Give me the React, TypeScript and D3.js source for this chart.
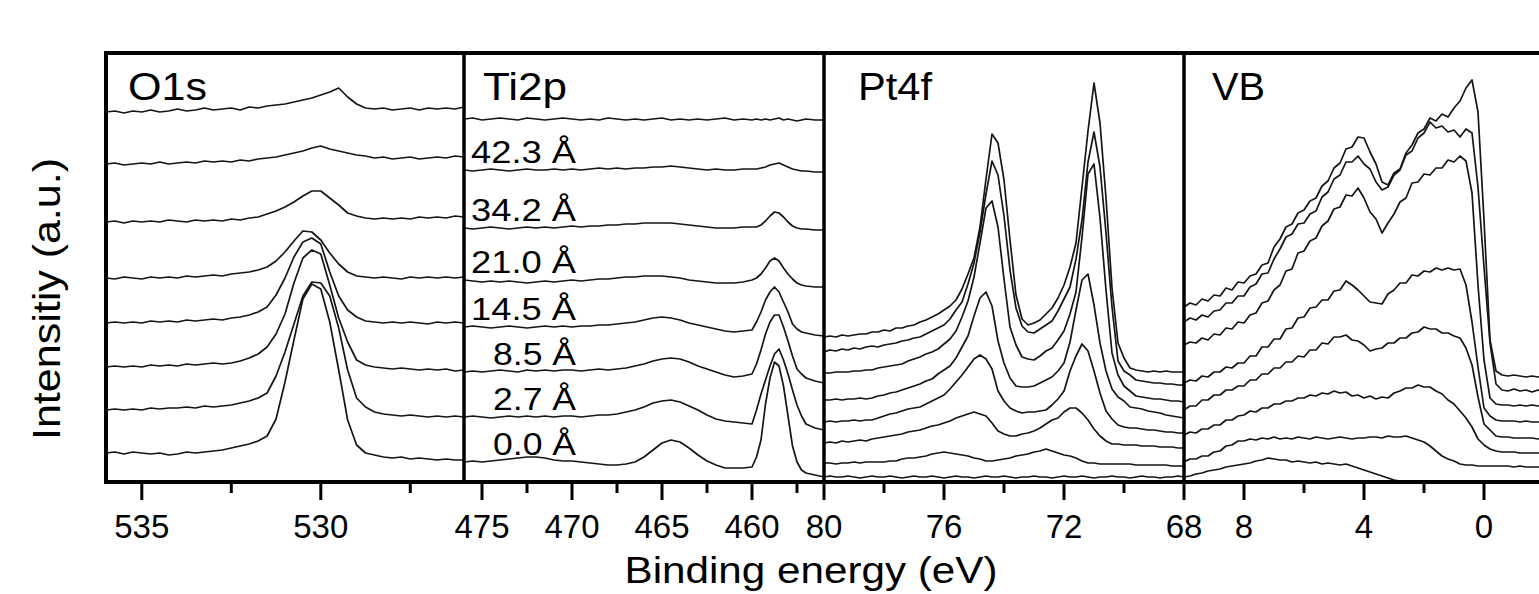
import React from "react";
import * as d3 from "d3";

// ---------- DATA ----------
const panelTitles = ["O1s", "Ti2p", "Pt4f", "VB"];
const thicknessLabels = ["42.3 Å", "34.2 Å", "21.0 Å", "14.5 Å", "8.5 Å", "2.7 Å", "0.0 Å"];

const o1sDomain = [536, 526];
const o1sMajor = [535, 530];
const o1sMinor = [532.5, 527.5];
const o1sEnergy = [536, 535.75, 535.5, 535.25, 535, 534.75, 534.5, 534.25, 534, 533.75, 533.5, 533.25, 533, 532.75, 532.5, 532.25, 532, 531.75, 531.5, 531.25, 531, 530.75, 530.5, 530.25, 530, 529.75, 529.5, 529.25, 529, 528.75, 528.5, 528.25, 528, 527.75, 527.5, 527.25, 527, 526.75, 526.5, 526.25, 526];
const o1sSpectra = [
  [370, 371, 369, 371, 370, 372, 370, 371, 373, 371, 372, 374, 372, 373, 374, 372, 375, 374, 376, 377, 378, 380, 382, 384, 387, 390, 394, 385, 378, 374, 373, 374, 372, 373, 374, 372, 374, 373, 374, 373, 375],
  [318, 319, 317, 318, 319, 318, 320, 318, 319, 320, 319, 321, 320, 321, 320, 322, 321, 323, 324, 325, 327, 329, 331, 334, 336, 333, 331, 329, 327, 326, 324, 325, 323, 324, 325, 323, 324, 325, 324, 326, 325],
  [260, 261, 259, 261, 260, 261, 260, 262, 261, 260, 262, 261, 262, 261, 263, 262, 264, 265, 268, 271, 275, 280, 286, 291, 291, 284, 277, 269, 266, 264, 263, 264, 263, 264, 263, 265, 264, 265, 264, 266, 265],
  [204, 203, 205, 204, 203, 205, 204, 205, 204, 206, 205, 206, 207, 206, 208, 209, 210, 212, 215, 221, 230, 241, 251, 250, 242, 229, 218, 210, 206, 205, 204, 205, 204, 203, 205, 204, 205, 204, 205, 204, 205],
  [159, 160, 159, 160, 159, 161, 160, 161, 160, 162, 161, 162, 163, 162, 164, 165, 167, 170, 175, 187, 204, 225, 240, 244, 238, 210, 186, 172, 165, 161, 160, 159, 160, 159, 160, 159, 158, 160, 159, 160, 159],
  [115, 116, 115, 116, 115, 117, 116, 117, 116, 118, 117, 118, 119, 118, 119, 121, 124, 128, 135, 148, 168, 199, 224, 232, 228, 197, 164, 140, 122, 117, 115, 114, 113, 114, 113, 112, 113, 112, 113, 111, 112],
  [72, 73, 72, 73, 72, 74, 73, 74, 74, 75, 74, 76, 75, 76, 77, 79, 81, 84, 89, 106, 130, 158, 186, 200, 199, 186, 154, 112, 84, 75, 70, 68, 67, 66, 67, 66, 65, 66, 65, 66, 65],
  [29, 30, 28, 30, 29, 28, 29, 27, 28, 30, 29, 30, 31, 32, 34, 36, 38, 41, 46, 63, 100, 142, 183, 198, 193, 160, 112, 62, 37, 29, 27, 25, 24, 25, 23, 24, 23, 22, 23, 22, 22],
];

const ti2pDomain = [476, 456];
const ti2pMajor = [475, 470, 465, 460];
const ti2pMinor = [472.5, 467.5, 462.5, 457.5];
const ti2pEnergy = [476, 475.5, 475, 474.5, 474, 473.5, 473, 472.5, 472, 471.5, 471, 470.5, 470, 469.5, 469, 468.5, 468, 467.5, 467, 466.5, 466, 465.5, 465, 464.5, 464, 463.5, 463, 462.5, 462, 461.5, 461, 460.5, 460, 459.75, 459.5, 459.25, 459, 458.75, 458.5, 458.25, 458, 457.75, 457.5, 457.25, 457, 456.5, 456];
const ti2pSpectra = [
  [363, 364, 362, 363, 364, 363, 362, 364, 363, 362, 363, 364, 363, 362, 363, 362, 364, 363, 362, 363, 362, 363, 364, 362, 363, 362, 363, 362, 363, 364, 362, 363, 362, 363, 362, 363, 362, 363, 364, 362, 363, 362, 361, 362, 363, 362, 362],
  [312, 311, 312, 313, 312, 311, 312, 313, 312, 312, 313, 312, 313, 312, 313, 314, 313, 314, 313, 314, 314, 315, 315, 316, 315, 314, 313, 312, 313, 312, 312, 313, 313, 313, 314, 315, 317, 318, 319, 317, 315, 313, 312, 311, 311, 310, 310],
  [254, 253, 254, 255, 254, 253, 254, 255, 254, 255, 254, 255, 256, 255, 256, 256, 257, 257, 258, 258, 259, 259, 259, 259, 258, 257, 256, 255, 254, 254, 254, 255, 255, 255, 257, 261, 266, 270, 269, 265, 260, 256, 254, 253, 253, 252, 252],
  [202, 201, 200, 201, 200, 201, 200, 199, 200, 201, 200, 201, 202, 201, 202, 203, 203, 204, 205, 205, 206, 206, 206, 205, 204, 202, 201, 200, 199, 199, 199, 200, 202, 204, 208, 214, 221, 224, 221, 214, 208, 203, 199, 197, 196, 195, 195],
  [155, 156, 155, 154, 155, 156, 155, 154, 155, 156, 155, 156, 155, 156, 156, 157, 157, 158, 159, 160, 162, 164, 165, 164, 162, 159, 157, 155, 153, 151, 150, 151, 152, 160, 170, 182, 190, 195, 190, 180, 170, 158, 153, 150, 149, 147, 146],
  [110, 111, 110, 111, 112, 111, 110, 112, 111, 112, 111, 112, 112, 111, 112, 113, 112, 113, 114, 116, 118, 121, 123, 124, 123, 120, 116, 113, 110, 107, 105, 106, 108, 118, 132, 148, 160, 167, 167, 155, 141, 126, 113, 108, 104, 101, 99],
  [65, 66, 65, 64, 65, 66, 65, 66, 65, 66, 65, 66, 66, 65, 66, 67, 67, 68, 70, 72, 75, 79, 81, 82, 80, 76, 72, 67, 63, 61, 60, 59, 58, 72, 88, 102, 116, 128, 133, 122, 108, 92, 77, 66, 58, 54, 52],
  [20, 21, 20, 21, 22, 23, 24, 25, 25, 24, 22, 21, 21, 20, 19, 18, 17, 17, 18, 20, 25, 32, 39, 42, 40, 34, 27, 21, 17, 14, 14, 14, 15, 25, 42, 78, 104, 120, 116, 96, 66, 36, 20, 12, 9, 7, 5],
];

const pt4fDomain = [80, 68];
const pt4fMajor = [80, 76, 72, 68];
const pt4fMinor = [78, 74, 70];
const pt4fEnergy = [80, 79.8, 79.6, 79.4, 79.2, 79, 78.8, 78.6, 78.4, 78.2, 78, 77.8, 77.6, 77.4, 77.2, 77, 76.8, 76.6, 76.4, 76.2, 76, 75.8, 75.6, 75.4, 75.2, 75, 74.8, 74.6, 74.4, 74.2, 74, 73.8, 73.6, 73.4, 73.2, 73, 72.8, 72.6, 72.4, 72.2, 72, 71.8, 71.6, 71.4, 71.2, 71, 70.8, 70.6, 70.4, 70.2, 70, 69.8, 69.6, 69.4, 69.2, 69, 68.8, 68.6, 68.4, 68.2, 68];
const pt4fSpectra = [
  [145, 146, 145, 147, 146, 147, 148, 148, 150, 150, 152, 151, 154, 154, 156, 157, 160, 162, 165, 168, 172, 176, 182, 193, 208, 224, 255, 303, 348, 339, 302, 242, 187, 163, 157, 159, 162, 168, 174, 184, 197, 215, 239, 295, 351, 399, 359, 284, 194, 139, 124, 114, 112, 111, 110, 111, 110, 111, 110, 110, 110],
  [130, 132, 131, 133, 132, 134, 133, 135, 136, 135, 137, 138, 139, 141, 142, 144, 145, 148, 151, 154, 157, 163, 172, 180, 198, 219, 250, 288, 321, 307, 266, 212, 174, 156, 150, 149, 153, 157, 161, 171, 183, 195, 223, 262, 320, 350, 315, 249, 175, 121, 111, 107, 102, 101, 100, 99, 99, 98, 98, 97, 97],
  [109, 109, 110, 110, 110, 111, 111, 112, 112, 114, 115, 116, 117, 118, 121, 123, 125, 128, 130, 133, 138, 143, 151, 165, 181, 205, 239, 274, 281, 255, 203, 155, 137, 125, 123, 122, 126, 131, 134, 142, 151, 168, 190, 245, 308, 318, 264, 192, 129, 107, 96, 91, 86, 85, 84, 83, 83, 82, 81, 81, 80],
  [82, 82, 83, 82, 83, 83, 84, 83, 84, 86, 87, 89, 90, 92, 94, 96, 98, 101, 103, 108, 112, 116, 124, 135, 146, 166, 184, 190, 176, 141, 119, 104, 96, 95, 95, 96, 99, 102, 105, 111, 119, 140, 172, 202, 208, 177, 139, 111, 93, 85, 81, 75, 74, 73, 71, 70, 69, 67, 66, 65, 64],
  [60, 61, 60, 61, 61, 62, 61, 62, 62, 64, 66, 68, 69, 71, 73, 74, 75, 78, 81, 84, 87, 93, 100, 107, 115, 123, 127, 123, 113, 91, 81, 74, 71, 69, 70, 70, 71, 72, 77, 83, 91, 111, 126, 138, 131, 111, 89, 71, 63, 57, 55, 54, 54, 53, 52, 52, 51, 50, 50, 49, 49],
  [39, 40, 39, 41, 40, 41, 42, 41, 43, 44, 45, 46, 47, 48, 50, 51, 52, 54, 56, 57, 59, 61, 64, 66, 68, 70, 68, 66, 59, 51, 48, 46, 46, 48, 49, 51, 54, 58, 62, 64, 70, 74, 74, 69, 62, 53, 46, 41, 38, 38, 37, 37, 37, 36, 36, 36, 35, 35, 35, 34, 34],
  [19, 19, 18, 19, 19, 20, 19, 20, 20, 20, 20, 21, 21, 23, 24, 24, 25, 26, 28, 29, 30, 29, 28, 27, 26, 24, 23, 21, 21, 22, 23, 24, 26, 27, 28, 30, 31, 33, 31, 29, 27, 26, 24, 21, 19, 19, 18, 18, 18, 18, 18, 18, 17, 17, 17, 17, 17, 17, 16, 16, 16],
  [5, 6, 5, 5, 6, 5, 4, 5, 6, 5, 5, 6, 5, 4, 5, 6, 5, 5, 6, 5, 4, 5, 6, 5, 5, 4, 5, 6, 5, 5, 6, 5, 4, 5, 5, 6, 5, 5, 4, 5, 6, 5, 5, 6, 5, 4, 5, 5, 6, 5, 5, 4, 5, 6, 5, 5, 4, 5, 5, 6, 5],
];

const vbDomain = [10, -2];
const vbMajor = [8, 4, 0];
const vbMinor = [6, 2];
const vbEnergy = [10, 9.8, 9.6, 9.4, 9.2, 9, 8.8, 8.6, 8.4, 8.2, 8, 7.8, 7.6, 7.4, 7.2, 7, 6.8, 6.6, 6.4, 6.2, 6, 5.8, 5.6, 5.4, 5.2, 5, 4.8, 4.6, 4.4, 4.2, 4, 3.8, 3.6, 3.4, 3.2, 3, 2.8, 2.6, 2.4, 2.2, 2, 1.8, 1.6, 1.4, 1.2, 1, 0.8, 0.6, 0.4, 0.2, 0, -0.2, -0.4, -0.6, -0.8, -1, -1.2, -1.4, -1.6, -1.8, -2];
const vbSpectra = [
  [175, 179, 177, 183, 181, 187, 186, 194, 192, 200, 199, 206, 208, 217, 219, 235, 243, 255, 258, 269, 272, 281, 284, 296, 301, 314, 319, 333, 335, 345, 344, 330, 318, 300, 297, 309, 313, 329, 337, 349, 353, 364, 361, 368, 365, 374, 381, 394, 402, 370, 262, 142, 111, 107, 106, 107, 106, 105, 106, 105, 106],
  [160, 164, 162, 167, 165, 171, 172, 179, 179, 186, 186, 195, 198, 208, 209, 223, 233, 245, 248, 258, 259, 268, 271, 285, 290, 303, 307, 320, 320, 326, 318, 313, 300, 292, 295, 307, 312, 327, 331, 344, 349, 360, 354, 356, 350, 352, 345, 353, 349, 295, 215, 139, 98, 92, 91, 93, 91, 92, 90, 92, 91],
  [137, 140, 139, 144, 142, 148, 147, 154, 153, 160, 159, 167, 169, 179, 181, 192, 197, 211, 213, 229, 231, 241, 244, 256, 261, 273, 275, 287, 286, 294, 284, 270, 263, 249, 259, 268, 280, 284, 299, 300, 308, 307, 314, 314, 322, 320, 326, 321, 289, 197, 122, 84, 78, 77, 77, 76, 77, 76, 77, 76, 76],
  [99, 102, 101, 106, 105, 110, 110, 115, 114, 119, 119, 126, 126, 135, 135, 143, 143, 153, 154, 164, 165, 174, 175, 182, 182, 191, 192, 201, 197, 192, 186, 180, 179, 178, 188, 192, 199, 199, 207, 206, 211, 210, 214, 212, 214, 212, 213, 197, 160, 115, 74, 66, 62, 61, 61, 61, 60, 61, 60, 60, 60],
  [72, 76, 76, 82, 82, 87, 87, 92, 92, 96, 96, 102, 102, 108, 108, 114, 114, 120, 120, 126, 125, 132, 132, 139, 138, 145, 145, 147, 142, 141, 137, 131, 133, 134, 139, 139, 144, 144, 149, 150, 155, 153, 153, 149, 149, 146, 144, 134, 117, 85, 58, 52, 46, 45, 45, 44, 44, 44, 44, 43, 44],
  [47, 50, 49, 53, 53, 57, 57, 62, 62, 66, 67, 71, 70, 74, 74, 78, 78, 81, 81, 84, 84, 87, 86, 89, 88, 91, 89, 90, 86, 87, 84, 86, 83, 85, 84, 89, 91, 94, 94, 97, 95, 95, 91, 88, 82, 78, 71, 64, 55, 43, 37, 33, 31, 30, 30, 30, 29, 29, 29, 29, 29],
  [20, 23, 23, 26, 26, 30, 31, 36, 37, 41, 41, 43, 42, 44, 43, 45, 43, 44, 43, 45, 44, 43, 45, 44, 43, 44, 45, 44, 43, 44, 44, 45, 45, 44, 46, 45, 45, 46, 44, 42, 40, 36, 31, 26, 23, 21, 18, 17, 17, 16, 16, 16, 16, 16, 16, 15, 16, 15, 15, 15, 15],
  [5, 6, 8, 9, 11, 12, 13, 15, 16, 17, 18, 19, 21, 22, 24, 23, 22, 22, 20, 21, 20, 19, 20, 18, 19, 18, 17, 18, 16, 14, 12, 10, 8, 6, 4, 2, 1, 0, 0, 0, 0, 0, 0, 0, 0, 0, 0, 0, 0, 0, 0, 0, 0, 0, 0, 0, 0, 0, 0, 0, 0],
];

const intensityDomain = [0, 430];

// ---------- LAYOUT ----------
const W = 1539;
const H = 594;
const bounds = [106, 464, 824, 1184, 1544];
const plotTop = 53;
const plotBottom = 482;
const FONT = "'Liberation Sans', Arial, Helvetica, sans-serif";
const titleOffsets = [22, 19, 34, 28];
const titleLengths = [79, 84, 74, 53];

export default function App() {
  const y = d3.scaleLinear().domain(intensityDomain).range([plotBottom, plotTop - 1]);

  const panels = [
    { energy: o1sEnergy, spectra: o1sSpectra, domain: o1sDomain, major: o1sMajor, minor: o1sMinor },
    { energy: ti2pEnergy, spectra: ti2pSpectra, domain: ti2pDomain, major: ti2pMajor, minor: ti2pMinor },
    { energy: pt4fEnergy, spectra: pt4fSpectra, domain: pt4fDomain, major: pt4fMajor, minor: pt4fMinor },
    { energy: vbEnergy, spectra: vbSpectra, domain: vbDomain, major: vbMajor, minor: vbMinor },
  ];

  return (
    <svg
      width={W}
      height={H}
      viewBox={`0 0 ${W} ${H}`}
      style={{ position: "absolute", left: 0, top: 0, background: "#fff" }}
    >
      <defs>
        {panels.map((_, k) => (
          <clipPath id={`clip${k}`} key={k}>
            <rect x={bounds[k]} y={plotTop} width={bounds[k + 1] - bounds[k]} height={plotBottom - plotTop} />
          </clipPath>
        ))}
      </defs>
      <rect x={0} y={0} width={W} height={H} fill="#fff" />

      {panels.map((p, k) => {
        const x = d3.scaleLinear().domain(p.domain).range([bounds[k], bounds[k + 1]]);
        const line = d3
          .line<number>()
          .x((_, i) => x(p.energy[i]))
          .y((d) => y(d));
        return (
          <g key={k}>
            <g clipPath={`url(#clip${k})`}>
              {p.spectra.map((s, j) => (
                <path key={j} d={line(s) || ""} fill="none" stroke="#151515" strokeWidth={1.7} strokeLinejoin="round" />
              ))}
            </g>
            {p.major.map((t) => (
              <g key={`M${t}`}>
                <line x1={x(t)} x2={x(t)} y1={plotBottom} y2={plotBottom + 18} stroke="#000" strokeWidth={3} />
                <text x={x(t)} y={538} textAnchor="middle" fontFamily={FONT} fontSize={33} fill="#000">
                  {t}
                </text>
              </g>
            ))}
            {p.minor.map((t) => (
              <line key={`m${t}`} x1={x(t)} x2={x(t)} y1={plotBottom} y2={plotBottom + 11} stroke="#000" strokeWidth={3} />
            ))}
            <text
              x={bounds[k] + titleOffsets[k]}
              y={100}
              fontFamily={FONT}
              fontSize={39}
              fill="#000"
              textLength={titleLengths[k]}
              lengthAdjust="spacingAndGlyphs"
            >
              {panelTitles[k]}
            </text>
          </g>
        );
      })}

      {/* Ti2p thickness labels */}
      {thicknessLabels.map((lab, j) => (
        <text
          key={lab}
          x={bounds[1] + 112}
          y={y(ti2pSpectra[j + 1][0]) - 7}
          textAnchor="end"
          fontFamily={FONT}
          fontSize={32}
          fill="#000"
          textLength={lab.length === 6 ? 105 : 83}
          lengthAdjust="spacingAndGlyphs"
        >
          {lab}
        </text>
      ))}

      {/* frame */}
      <line x1={bounds[0] - 2} x2={bounds[4]} y1={plotTop} y2={plotTop} stroke="#000" strokeWidth={4} />
      <line x1={bounds[0] - 2} x2={bounds[4]} y1={plotBottom} y2={plotBottom} stroke="#000" strokeWidth={4} />
      <line x1={bounds[0]} x2={bounds[0]} y1={plotTop - 2} y2={plotBottom + 2} stroke="#000" strokeWidth={4} />
      {bounds.slice(1, 4).map((bx) => (
        <line key={bx} x1={bx} x2={bx} y1={plotTop} y2={plotBottom} stroke="#000" strokeWidth={3.5} />
      ))}

      {/* axis titles */}
      <text
        x={811}
        y={583}
        textAnchor="middle"
        fontFamily={FONT}
        fontSize={37}
        fill="#000"
        textLength={373}
        lengthAdjust="spacingAndGlyphs"
      >
        Binding energy (eV)
      </text>
      <text
        transform="translate(60,299) rotate(-90)"
        textAnchor="middle"
        fontFamily={FONT}
        fontSize={38}
        fill="#000"
        textLength={282}
        lengthAdjust="spacingAndGlyphs"
      >
        Intensitiy (a.u.)
      </text>
    </svg>
  );
}
